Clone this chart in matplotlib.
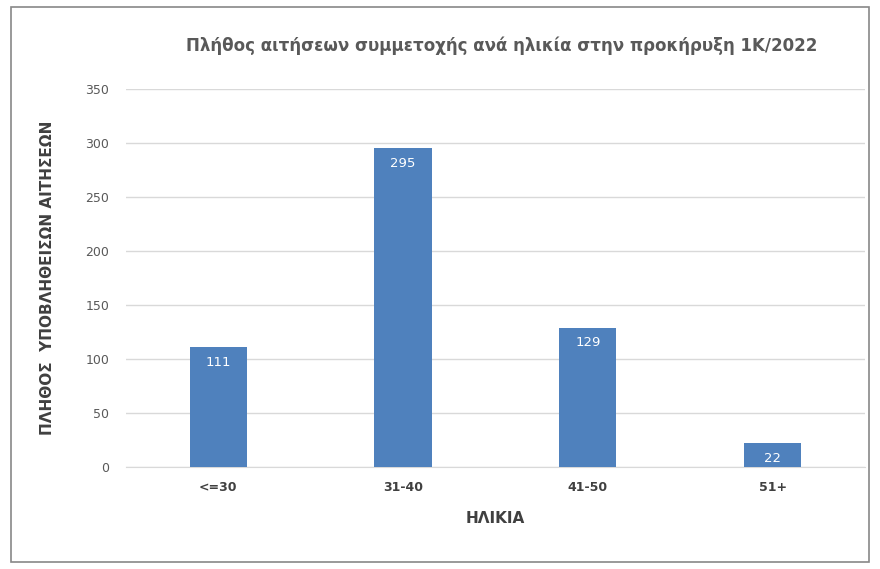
import matplotlib
matplotlib.use("Agg")
import matplotlib.pyplot as plt
from matplotlib.patches import Rectangle

categories = ["<=30", "31-40", "41-50", "51+"]
values = [111, 295, 129, 22]
yticks = [0, 50, 100, 150, 200, 250, 300, 350]

fig = plt.figure(figsize=(8.8, 5.69), dpi=100)
fig.patches.append(Rectangle((0.012, 0.012), 0.976, 0.976, transform=fig.transFigure,
                             fill=False, edgecolor="#888888", linewidth=1.2))
ax = fig.add_axes([0.143, 0.179, 0.84, 0.665])
bars = ax.bar(range(len(categories)), values, width=0.31, color="#4F81BD", zorder=3)
for b, v in zip(bars, values):
    ax.text(b.get_x() + b.get_width() / 2, v - 8, str(v), ha="center", va="top",
            color="white", fontsize=9.5, zorder=4)
ax.set_ylim(0, 350)
ax.set_xlim(-0.5, 3.5)
ax.set_yticks(yticks)
ax.set_xticks(range(len(categories)))
ax.set_xticklabels(categories, fontweight="bold", color="#404040", fontsize=9)
ax.tick_params(axis="y", colors="#595959", labelsize=9, length=0, pad=12)
ax.tick_params(axis="x", length=0, pad=10)
ax.grid(axis="y", color="#D9D9D9", linewidth=1, zorder=0)
for s in ["top", "right", "left"]:
    ax.spines[s].set_visible(False)
ax.spines["bottom"].set_color("#D9D9D9")
ax.set_xlabel("ΗΛΙΚΙΑ", fontweight="bold", color="#404040", fontsize=11, labelpad=12)
ax.set_ylabel("ΠΛΗΘΟΣ  ΥΠΟΒΛΗΘΕΙΣΩΝ ΑΙΤΗΣΕΩΝ", fontweight="bold", color="#404040",
              fontsize=11, labelpad=22)
fig.text(0.57, 0.92, "Πλήθος αιτήσεων συμμετοχής ανά ηλικία στην προκήρυξη 1Κ/2022",
         ha="center", va="center", fontweight="bold", color="#595959", fontsize=12)
fig.savefig("out.png", dpi=100)
